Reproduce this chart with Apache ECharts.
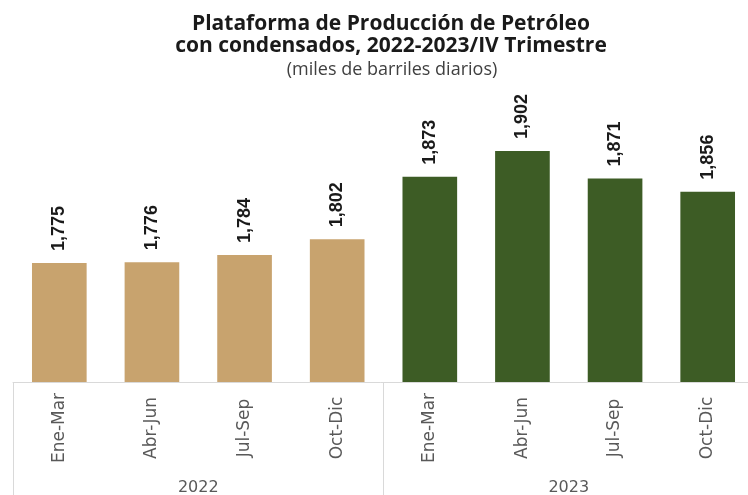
<!DOCTYPE html>
<html>
<head>
<meta charset="utf-8">
<script src="https://cdn.jsdelivr.net/npm/echarts@6/dist/echarts.min.js"></script>
<style>
  html, body { margin: 0; padding: 0; background: #ffffff; }
  #chart { width: 748px; height: 495px; }
</style>
</head>
<body>
<div id="chart"></div>
<script>
// Quarterly oil production platform with condensates (thousand barrels per day)
const quarters = ['Ene-Mar', 'Abr-Jun', 'Jul-Sep', 'Oct-Dic'];
const years = ['2022', '2023'];
const values2022 = [1775, 1776, 1784, 1802];
const values2023 = [1873, 1902, 1871, 1856];

const yearColors = ['#c8a36e', '#3d5c25'];

const categories = quarters.concat(quarters);
const barData = values2022.map(v => ({ value: v, itemStyle: { color: yearColors[0] } }))
  .concat(values2023.map(v => ({ value: v, itemStyle: { color: yearColors[1] } })));

const chart = echarts.init(document.getElementById('chart'));

chart.setOption({
  animation: false,
  backgroundColor: '#ffffff',
  title: [
    {
      text: 'Plataforma de Producción de Petróleo\ncon condensados, 2022-2023/IV Trimestre',
      left: 386,
      top: 8,
      textAlign: 'center',
      textStyle: {
        fontFamily: 'Open Sans',
        fontWeight: 'bold',
        fontSize: 21,
        lineHeight: 22,
        color: '#1a1a1a'
      }
    },
    {
      text: '(miles de barriles diarios)',
      left: 387,
      top: 56,
      textAlign: 'center',
      textStyle: {
        fontFamily: 'Open Sans',
        fontWeight: 'normal',
        fontSize: 18,
        color: '#404040'
      }
    }
  ],
  grid: {
    left: 13, width: 741, top: 100, height: 282,
    containLabel: false,
    outerBoundsMode: 'none'
  },
  xAxis: [
    {
      type: 'category',
      data: categories,
      position: 'bottom',
      axisLine: { show: true, lineStyle: { color: '#d9d9d9', width: 1 } },
      axisTick: { show: false },
      axisLabel: {
        rotate: 90,
        interval: 0,
        align: 'center',
        verticalAlign: 'middle',
        margin: 46,
        fontFamily: 'DejaVu Sans',
        fontSize: 17,
        color: '#595959'
      }
    },
    {
      type: 'category',
      data: years,
      position: 'bottom',
      axisLine: { show: false },
      axisTick: { show: true, length: 120, lineStyle: { color: '#d9d9d9', width: 1 } },
      axisLabel: {
        interval: 0,
        margin: 106,
        verticalAlign: 'middle',
        fontFamily: 'DejaVu Sans',
        fontSize: 16,
        color: '#595959'
      }
    }
  ],
  yAxis: {
    type: 'value',
    min: 1640,
    max: 1960,
    show: false,
    splitLine: { show: false }
  },
  series: [
    {
      type: 'bar',
      xAxisIndex: 0,
      data: barData,
      barWidth: '59%',
      label: {
        show: true,
        position: 'top',
        rotate: 90,
        distance: 12,
        align: 'left',
        verticalAlign: 'middle',
        fontFamily: 'Liberation Sans',
        fontWeight: 'bold',
        fontSize: 18,
        color: '#1a1a1a',
        formatter: p => p.value.toLocaleString('en-US')
      }
    }
  ]
});
</script>
</body>
</html>
